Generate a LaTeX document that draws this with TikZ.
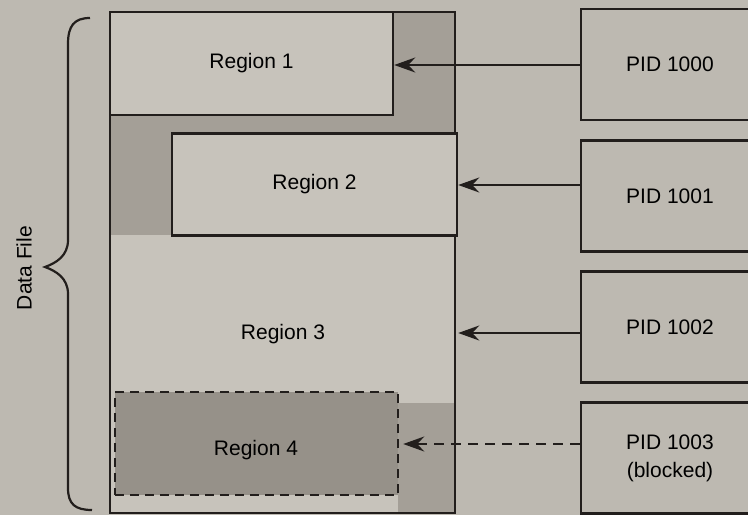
\documentclass[tikz,border=0pt]{standalone}
\usepackage{fontspec}
\setmainfont{Liberation Sans}
\usetikzlibrary{arrows.meta}
\definecolor{paper}{RGB}{189,185,177}
\definecolor{lightpart}{RGB}{199,195,187}
\definecolor{shadepart}{RGB}{164,159,151}
\definecolor{lockpart}{RGB}{150,145,137}
\definecolor{ink}{RGB}{34,30,28}
\tikzset{
  regionbox/.style={draw=ink, line width=2.5pt, fill=lightpart, rectangle, inner sep=0pt, font=\fontsize{21}{24}\selectfont},
  pidbox/.style={draw=ink, line width=2.5pt, rectangle, inner sep=0pt, minimum width=178pt, minimum height=111pt, align=center, font=\fontsize{21}{28}\selectfont},
  pointer/.style={draw=ink, line width=2.2pt, -{Stealth[length=21pt,width=15pt,inset=7pt]}},
}
\begin{document}
\begin{tikzpicture}[x=1pt, y=-1pt]
            \useasboundingbox (0,0) rectangle (748,515);
            \clip (0,0) rectangle (748,515);
            \fill[paper] (0,0) rectangle (748,515);
            \fill[lightpart] (110,12) rectangle (455,513);
            \fill[shadepart] (393,12) rectangle (455,133);
            \fill[shadepart] (110,115) rectangle (455,133);
            \fill[shadepart] (110,115) rectangle (172,235);
            \fill[shadepart] (398,403) rectangle (455,513);
            \node[draw=ink, line width=2.5pt, rectangle, inner sep=0pt, minimum width=345pt, minimum height=501pt] (datafile) at (282.5,262.5) {};
            \node[regionbox, minimum width=283pt, minimum height=103pt] (region1) at (251.5,63.5) {Region 1};
            \node[regionbox, minimum width=285pt, minimum height=102pt] (region2) at (314.5,184.5) {Region 2};
            \node[font=\fontsize{21}{24}\selectfont] (region3) at (283,334) {Region 3};
            \node[regionbox, fill=lockpart, dash pattern=on 9pt off 6pt, minimum width=283pt, minimum height=103pt] (region4) at (256.5,443.5) {};
            \node[font=\fontsize{21}{24}\selectfont] (region4label) at (256,450) {Region 4};
            \node[pidbox] (pid0) at (670,64.5) {PID 1000};
            \node[pidbox] (pid1) at (670,196) {PID 1001};
            \node[pidbox] (pid2) at (670,327) {PID 1002};
            \node[pidbox] (pid3) at (670,458) {PID 1003\\(blocked)};
            \draw[pointer] (pid0.west |- 0,65) -- (region1.east |- 0,65);
            \draw[pointer] (pid1.west |- 0,185) -- (region2.east |- 0,185);
            \draw[pointer] (pid2.west |- 0,333) -- ([xshift=2pt]datafile.east |- 0,333);
            \draw[pointer, dash pattern=on 10pt off 7pt] (pid3.west |- 0,444) -- ([xshift=4pt]region4.east |- 0,444);
            \draw[ink, line width=2.2pt] (90,18) .. controls (74,18) and (68,26) .. (68,44) -- (68,240) .. controls (68,256) and (56,263) .. (45,267) .. controls (56,271) and (68,278) .. (68,294) -- (68,488) .. controls (68,504) and (75,510) .. (92,510);
            \node[rotate=90, font=\fontsize{21}{24}\selectfont] (filelabel) at (24,268) {Data File};
        \end{tikzpicture}
\end{document}
